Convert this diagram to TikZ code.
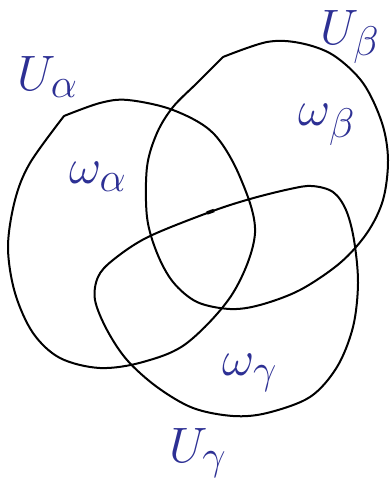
\documentclass[tikz,border=0pt]{standalone}
\usepackage{amsmath,amssymb}
\usepackage{graphicx}
\usepackage{xcolor}
\usepackage{tikz}
\usetikzlibrary{positioning}
\definecolor{labelblue}{RGB}{45,48,148}
\newcommand{\biglab}[1]{\scalebox{2}{$#1$}}

\begin{document}
\begin{tikzpicture}[
  x=1pt,y=-1pt,
  every node/.style={font=\fontsize{24.88}{30}\selectfont},
  setcurve/.style={draw=black,line width=2pt,line join=round},
  lab/.style={text=labelblue,inner sep=0pt}]
\useasboundingbox (0,0) rectangle (390,481);
%--- Open sets ---
\draw[setcurve] plot[smooth,tension=0.55] coordinates{
  (64,116) (100,103) (128,100) (173,110) (213,133) (240,177)
  (255,233) (233,293) (187,343) (143,362) (100,368)
  (60,358) (33,333) (15,293) (8,247) (15,200) (30,163) (64,116)};
\draw[setcurve] plot[smooth,tension=0.55] coordinates{
  (223,57) (267,42) (300,43) (333,55) (363,83) (382,123) (388,160)
  (383,200) (367,233) (340,263) (300,290) (260,305) (230,309) (197,302)
  (173,282) (157,253) (147,217) (147,167) (157,133) (173,107) (197,83) (223,57)};
\draw[setcurve] plot[smooth cycle,tension=0.55] coordinates{
  (148,237) (210,212) (250,199) (290,189) (312,186) (333,192) (346,210)
  (354,240) (358,283) (353,327) (337,367) (310,397) (267,413) (233,416)
  (193,408) (157,387) (127,360) (107,330) (95,300) (98,277) (113,260)};
\draw[line width=3.5pt] (207,213)--(214,210.5);
%--- Labels ---
\node[lab] (Ua) at (48,77)  {\biglab{U_\alpha}};
\node[lab] (Ub) at (350,37) {\biglab{U_\beta}};
\node[lab] (Ug) at (198,453) {\biglab{U_\gamma}};
\node[lab] (wa) at (98,177) {\biglab{\omega_\alpha}};
\node[lab] (wb) at (327,125) {\biglab{\omega_\beta}};
\node[lab] (wg) at (250,373) {\biglab{\omega_\gamma}};
\end{tikzpicture}
\end{document}
